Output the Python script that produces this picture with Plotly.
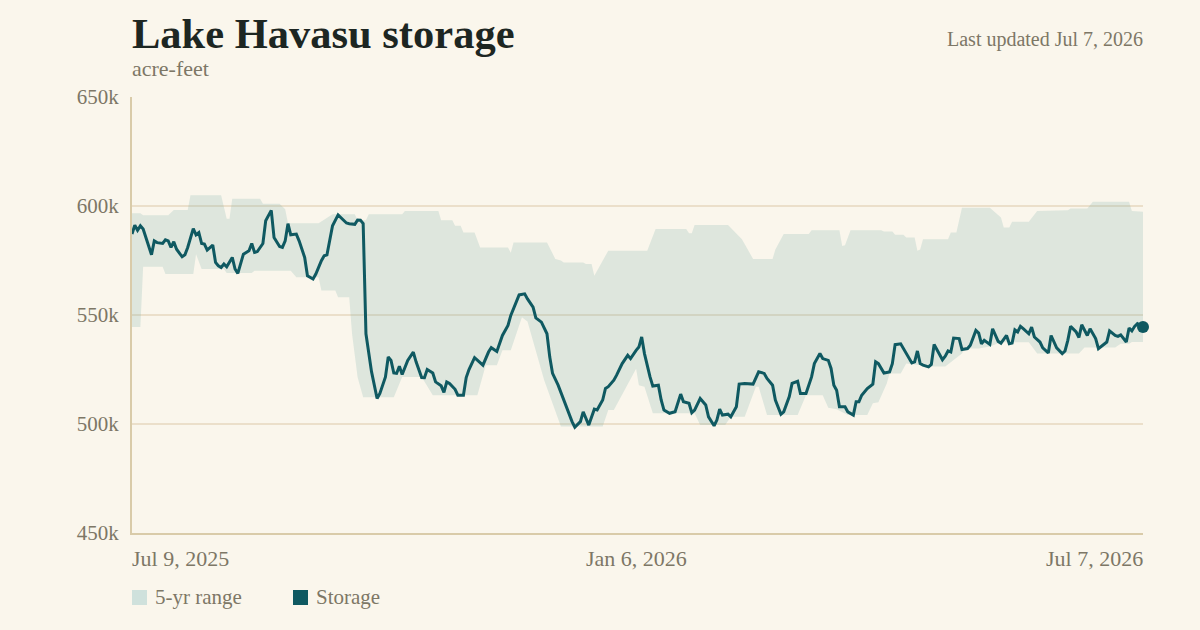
import pandas as pd
import plotly.graph_objects as go

START = pd.Timestamp("2025-07-09")

# Storage (thousand acre-feet), by day offset from Jul 9, 2025
storage_day = [0,1,2,3,4,5,7,8,9,11,12,13,14,15,16,18,19,20,22,23,24,25,26,27,29,30,31,32,33,34,36,37,38,40,42,43,44,45,47,48,50,51,53,54,55,56,57,59,60,62,63,65,66,68,69,70,72,74,75,77,78,80,81,82,83,84,86,88,89,91,92,93,94,95,96,97,99,100,101,102,104,105,106,108,109,111,112,113,114,116,117,119,120,121,123,126,128,129,131,133,135,136,137,139,141,142,144,145,147,149,150,151,153,155,157,158,159,161,162,164,166,167,169,170,171,173,174,176,178,179,181,182,183,184,186,187,189,190,191,193,195,197,198,200,201,202,204,206,207,209,210,211,212,214,215,217,218,220,223,224,225,227,228,230,231,233,234,236,237,239,240,242,244,245,247,248,250,251,252,253,254,256,257,259,260,261,262,264,266,267,268,270,272,273,274,276,278,280,281,282,283,284,286,287,288,291,292,293,294,295,297,298,300,301,303,304,305,306,308,309,311,312,314,315,316,317,318,319,320,322,323,324,326,327,328,329,330,332,334,335,336,337,339,340,341,343,344,346,347,349,350,351,353,354,355,357,358,359,360,361,363]
storage_kaf = [587.1,591.2,588.9,590.9,589.4,585.5,577.6,584.0,583.2,582.8,584.5,584.0,581.0,583.6,580.2,576.7,577.6,581.0,589.6,586.8,587.8,582.8,582.5,579.8,582.1,574.1,572.6,571.8,573.4,572.1,576.4,571.1,569.1,577.9,579.5,582.8,578.7,579.1,582.8,593.2,598.0,585.5,581.4,581.0,584.0,591.9,586.8,587.1,584.0,576.4,568.0,566.5,568.8,574.9,577.2,577.6,590.9,595.9,594.7,592.2,591.9,591.6,593.6,593.5,591.9,541.4,524.0,511.7,514.0,521.6,530.7,529.2,523.4,523.2,526.5,522.7,529.2,531.1,533.0,528.5,521.3,521.2,525.0,523.4,519.3,517.5,514.5,519.3,518.6,515.9,513.2,513.2,521.3,525.0,530.4,527.0,533.0,535.0,533.3,540.6,545.2,549.8,552.8,559.2,559.7,557.4,553.6,548.7,546.7,541.4,530.7,523.2,517.8,511.0,504.9,501.1,498.5,501.1,505.6,499.5,506.8,506.4,511.0,516.3,517.1,520.1,522.4,527.7,531.5,530.0,533.8,535.3,539.9,532.3,521.6,517.4,517.8,511.0,506.4,504.9,505.6,513.7,510.2,509.5,505.2,506.4,511.7,508.7,503.3,499.2,501.8,506.8,504.1,504.5,503.3,507.9,518.3,518.6,518.3,520.9,523.9,523.2,520.9,517.8,511.0,504.5,505.6,512.6,518.6,519.6,514.0,514.0,521.6,527.7,532.3,530.0,529.2,525.5,517.8,515.5,507.9,507.9,505.6,504.1,510.2,510.2,513.2,516.3,518.3,528.5,527.7,523.4,523.9,527.7,536.4,536.8,532.3,528.0,528.5,533.5,527.7,527.0,526.2,527.3,536.5,529.5,531.1,533.5,533.0,539.4,539.2,534.2,534.6,536.1,542.9,541.7,536.8,538.4,536.5,543.7,537.9,537.1,540.6,536.8,537.1,543.2,542.2,544.8,543.7,541.4,544.4,539.9,537.6,534.9,533.8,532.6,540.6,534.9,532.3,533.5,538.4,544.8,542.2,539.7,545.5,540.6,543.7,539.2,534.6,536.8,537.6,542.7,540.6,540.2,540.9,537.6,544.0,542.7,544.8,546.0,544.5]

# 5-yr range upper edge
upper_day = [0,3,4,13,15,20,21,32,34,35,36,46,47,53,55,56,67,72,80,81,84,85,97,98,110,111,115,116,118,119,123,125,135,136,137,149,152,154,155,162,163,165,166,170,171,185,188,199,200,201,202,214,219,223,230,231,234,243,244,254,255,256,258,269,270,273,274,277,278,281,282,283,284,293,294,296,298,308,312,313,315,316,322,325,336,337,343,345,358,359,363]
upper_kaf = [596.7,596.7,595.7,595.7,598.2,598.2,604.9,604.9,594.2,594.2,603.3,603.3,601.0,601.0,598.5,592.1,592.1,596.2,596.2,593.5,593.5,596.2,596.2,597.7,597.7,593.5,593.5,590.9,590.9,587.8,587.8,581.0,581.0,578.5,583.2,583.2,575.7,575.0,574.1,574.1,573.4,573.4,568.0,577.2,579.5,579.5,589.4,589.4,587.5,587.5,591.3,591.3,584.8,575.7,575.7,580.0,587.1,587.1,588.9,588.9,581.7,582.0,588.9,588.9,588.3,588.3,586.8,586.8,585.5,585.5,579.5,580.0,584.8,584.8,587.8,587.8,599.2,599.2,594.7,590.1,590.1,592.8,592.8,597.7,598.0,598.8,598.8,602.0,602.0,597.7,597.4]

# 5-yr range lower edge
lower_day = [0,3,4,11,12,22,23,25,33,34,43,44,57,59,67,68,73,74,78,79,81,83,94,97,104,108,124,127,131,133,136,140,142,148,154,169,171,173,181,182,184,187,202,204,213,215,220,224,225,228,239,242,248,250,253,257,264,266,268,271,272,276,278,282,287,292,298,299,304,308,312,322,325,340,342,353,355,358,359,363]
lower_kaf = [544.5,544.5,572.1,572.1,568.8,568.8,577.9,571.1,571.1,569.3,569.3,570.3,570.3,567.3,567.3,561.2,561.2,558.1,558.1,541.5,521.5,512.3,512.3,521.6,521.6,513.2,513.2,527.0,527.0,533.8,533.8,549.0,547.0,520.1,498.8,498.8,506.4,506.4,525.4,517.8,517.1,504.9,504.9,499.5,499.5,503.3,503.3,517.1,517.1,504.1,504.1,513.2,513.2,507.5,506.8,504.1,504.1,509.5,510.0,518.6,523.2,523.2,527.7,527.0,526.4,526.4,532.3,534.6,534.6,535.5,537.5,537.5,532.3,532.3,535.1,535.1,536.8,536.8,537.6,537.6]

y_ticks = [450000, 500000, 550000, 600000, 650000]
y_tick_text = ["450k", "500k", "550k", "600k", "650k"]
x_labels = [("Jul 9, 2025", 0, "left"), ("Jan 6, 2026", 181, "center"), ("Jul 7, 2026", 363, "right")]

def to_dates(days):
    return START + pd.to_timedelta(days, unit="D")

BG = "#faf6ec"
TEAL = "#0f5961"
BAND = "rgba(110,170,165,0.20)"
GRAY = "#7d7766"
FONT = "Georgia, 'Liberation Serif', serif"

fig = go.Figure()
fig.add_trace(go.Scatter(x=to_dates(lower_day), y=[v * 1000 for v in lower_kaf],
                         mode="lines", line=dict(width=0), hoverinfo="skip", showlegend=False))
fig.add_trace(go.Scatter(x=to_dates(upper_day), y=[v * 1000 for v in upper_kaf],
                         mode="lines", line=dict(width=0), fill="tonexty", fillcolor=BAND,
                         hoverinfo="skip", showlegend=False))
fig.add_trace(go.Scatter(x=to_dates(storage_day), y=[v * 1000 for v in storage_kaf],
                         mode="lines", line=dict(color=TEAL, width=3), showlegend=False))
fig.add_trace(go.Scatter(x=to_dates(storage_day[-1:]), y=[storage_kaf[-1] * 1000],
                         mode="markers", marker=dict(color=TEAL, size=12), showlegend=False,
                         cliponaxis=False))

fig.update_layout(
    width=1200, height=630,
    margin=dict(l=132, r=57, t=97, b=97),
    paper_bgcolor=BG, plot_bgcolor=BG,
    font=dict(family=FONT, color=GRAY),
    xaxis=dict(type="date", range=[START, START + pd.Timedelta(days=363)],
               showgrid=False, showticklabels=False, ticks="",
               showline=True, linecolor="#d9cba9", linewidth=2, zeroline=False),
    yaxis=dict(range=[450000, 650000], tickvals=y_ticks, ticktext=y_tick_text,
               showgrid=True, gridcolor="#ebdfca", gridwidth=1.5,
               showline=True, linecolor="#d9cba9", linewidth=2, zeroline=False,
               ticks="", ticklabelstandoff=7, tickfont=dict(size=21, color=GRAY, family=FONT)),
    showlegend=False,
)

def py(px):
    return (533 - px) / 436.0

def pxx(px):
    return (px - 132) / 1011.0

ann = []
ann.append(dict(text="<b>Lake Havasu storage</b>", x=pxx(130), y=py(33), xref="paper", yref="paper",
                xanchor="left", yanchor="middle", showarrow=False,
                font=dict(size=42.5, color="#1d2622", family=FONT)))
ann.append(dict(text="acre-feet", x=pxx(130), y=py(68), xref="paper", yref="paper",
                xanchor="left", yanchor="middle", showarrow=False,
                font=dict(size=22, color=GRAY, family=FONT)))
ann.append(dict(text="Last updated Jul 7, 2026", x=pxx(1145), y=py(40), xref="paper", yref="paper",
                xanchor="right", yanchor="middle", showarrow=False,
                font=dict(size=20, color=GRAY, family=FONT)))
for label, d, anchor in x_labels:
    shift = -2 if anchor == "left" else (2 if anchor == "right" else 0)
    ann.append(dict(text=label, x=START + pd.Timedelta(days=d), y=py(558), xref="x", yref="paper",
                    xanchor=anchor, yanchor="middle", showarrow=False, xshift=shift,
                    font=dict(size=22, color=GRAY, family=FONT)))
legend_items = [("5-yr range", "#cfe1dc", 132), ("Storage", TEAL, 293)]
shapes = []
for label, color, x0 in legend_items:
    shapes.append(dict(type="rect", xref="paper", yref="paper",
                       x0=pxx(x0), x1=pxx(x0 + 15), y0=py(590), y1=py(605),
                       fillcolor=color, line=dict(width=0)))
    ann.append(dict(text=label, x=pxx(x0 + 21), y=py(597), xref="paper", yref="paper",
                    xanchor="left", yanchor="middle", showarrow=False,
                    font=dict(size=21, color=GRAY, family=FONT)))
fig.update_layout(annotations=ann, shapes=shapes)

fig.write_html("out.html")
